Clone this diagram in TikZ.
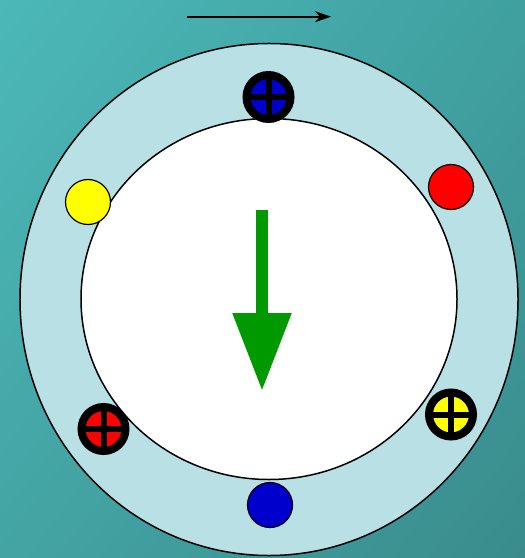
\documentclass[tikz,border=0pt]{standalone}
\usetikzlibrary{arrows.meta,shadings}
\definecolor{bgUL}{RGB}{76,184,184}
\definecolor{bgUR}{RGB}{64,160,160}
\definecolor{bgLL}{RGB}{68,164,164}
\definecolor{bgLR}{RGB}{58,140,140}
\definecolor{ring}{RGB}{185,224,228}
\definecolor{cblue}{RGB}{0,0,204}
\definecolor{cred}{RGB}{255,0,0}
\definecolor{cyellow}{RGB}{255,255,0}
\definecolor{cgreen}{RGB}{0,153,0}
\tikzset{
  plaindot/.style={circle, draw=black, line width=1.2bp, minimum size=45bp, inner sep=0pt},
  crossdot/.style={circle, draw=black, line width=8bp, minimum size=44bp, inner sep=0pt,
    path picture={
      \draw[black, line width=6bp] (path picture bounding box.north) -- (path picture bounding box.south);
      \draw[black, line width=6bp] (path picture bounding box.west) -- (path picture bounding box.east);
    }},
  outline/.style={draw=black, line width=1.5bp}
}
\begin{document}
\begin{tikzpicture}[x=1bp, y=-1bp]
  \useasboundingbox (0,0) rectangle (525,558);
  \shade[upper left=bgUL, upper right=bgUR, lower left=bgLL, lower right=bgLR] (0,0) rectangle (525,558);
  % ring
  \draw[outline, fill=ring] (269,299.5) ellipse [x radius=249bp, y radius=256bp];
  \draw[outline, fill=white] (269,299) ellipse [x radius=188bp, y radius=180.5bp];
  % top arrow
  \coordinate (ta) at (187,16.7);
  \coordinate (tb) at (331,16.7);
  \draw[line width=2bp, -{Stealth[length=16bp, width=11bp, inset=5bp]}] (ta) -- (tb);
  % green arrow
  \coordinate (ga) at (262,210);
  \coordinate (gb) at (262,391);
  \draw[cgreen, line width=12bp, -{Triangle[length=78bp, width=56bp]}] (ga) -- (gb);
  % plain dots
  \node[plaindot, fill=cyellow] (y1) at (88,202) {};
  \node[plaindot, fill=cred] (r1) at (451,187) {};
  \node[plaindot, fill=cblue] (b1) at (270,505) {};
  % crossed dots
  \node[crossdot, fill=cblue] (b2) at (268.5,97) {};
  \node[crossdot, fill=cred] (r2) at (103.5,429) {};
  \node[crossdot, fill=cyellow] (y2) at (451,414.5) {};
\end{tikzpicture}
\end{document}
